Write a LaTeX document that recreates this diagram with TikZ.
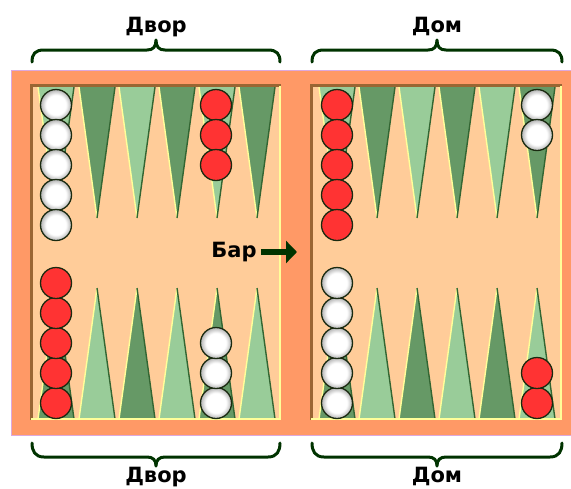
\documentclass[tikz,border=0pt]{standalone}
\usepackage{fontspec}
\setmainfont{DejaVu Sans}
\usetikzlibrary{arrows.meta}

\definecolor{boardorange}{HTML}{FF9966}
\definecolor{boardrim}{HTML}{DDA8DD}
\definecolor{fieldpeach}{HTML}{FFCC99}
\definecolor{darkpoint}{HTML}{669966}
\definecolor{lightpoint}{HTML}{99CC99}
\definecolor{pointedge}{HTML}{336633}
\definecolor{paleedge}{HTML}{FFFF99}
\definecolor{woodshade}{HTML}{996633}
\definecolor{checkerred}{HTML}{FF3333}
\definecolor{checkeredge}{HTML}{1A2A10}
\definecolor{labelgreen}{HTML}{003300}

% white checker: flat white face with a soft grey rim
\pgfdeclareradialshading{checkerwhite}{\pgfpoint{0bp}{0bp}}{%
  color(0bp)=(white); color(16bp)=(white); color(25bp)=(black!30); color(50bp)=(black!30)}

\begin{document}
\begin{tikzpicture}[x=1pt,y=-1pt,
  caption/.style={font=\bfseries\fontsize{21}{21}\selectfont, text=black, inner sep=0pt},
  checker/.style={circle, minimum size=31pt, inner sep=0pt, line width=1.3pt, draw=checkeredge},
  redchecker/.style={checker, fill=checkerred},
  whitechecker/.style={checker, shade, shading=checkerwhite},
  bracestroke/.style={draw=labelgreen, line width=3pt, line cap=round, line join=round},
  barpointer/.style={draw=labelgreen, line width=6pt, -{Triangle[length=11pt,width=22pt]}},
  fieldshade/.style={draw=woodshade, line width=3pt},
  fieldglow/.style={draw=paleedge, line width=2pt},
]
\useasboundingbox (0,0) rectangle (571,488);

% board frame and the bar between the two halves
\fill[boardorange] (11,70) rectangle (571,435);
\draw[boardrim, line width=1pt] (580,70.5) -- (11.5,70.5) -- (11.5,435.5) -- (580,435.5);

% the two playing fields
\fill[fieldpeach] (30,84) rectangle (281,420);
\fill[fieldpeach] (310,84) rectangle (562,420);

% points on the upper side
\foreach \cx/\tone in {56/lightpoint,97/darkpoint,137/lightpoint,177/darkpoint,217/lightpoint,257/darkpoint,
                       337/lightpoint,377/darkpoint,417/lightpoint,457/darkpoint,497/lightpoint,537/darkpoint}{
  \fill[\tone] (\cx-18,87) -- (\cx,218) -- (\cx+18,87) -- cycle;
  \draw[paleedge, line width=1.4pt] (\cx-18,87) -- (\cx,218);
  \draw[pointedge, line width=1.4pt] (\cx+18,87) -- (\cx,218);
}
% points on the lower side
\foreach \cx/\tone in {56/darkpoint,97/lightpoint,137/darkpoint,177/lightpoint,217/darkpoint,257/lightpoint,
                       337/darkpoint,377/lightpoint,417/darkpoint,457/lightpoint,497/darkpoint,537/lightpoint}{
  \fill[\tone] (\cx-18,419) -- (\cx,288) -- (\cx+18,419) -- cycle;
  \draw[paleedge, line width=1.4pt] (\cx-18,419) -- (\cx,288);
  \draw[pointedge, line width=1.4pt] (\cx+18,419) -- (\cx,288);
}

% bevel of each field: dark along top and left, light along bottom and right
\draw[fieldshade] (31.5,420) -- (31.5,85.5) -- (281,85.5);
\draw[fieldglow] (31,419) -- (280,419) -- (280,86);
\draw[fieldshade] (311.5,420) -- (311.5,85.5) -- (562,85.5);
\draw[fieldglow] (311,419) -- (561,419) -- (561,86);

% checkers, upper side
\foreach \i/\y in {1/105,2/135,3/165,4/195,5/225} \node[whitechecker] (ulw\i) at (56,\y) {};
\foreach \i/\y in {1/105,2/135,3/165} \node[redchecker] (ulr\i) at (216,\y) {};
\foreach \i/\y in {1/105,2/135,3/165,4/195,5/225} \node[redchecker] (urr\i) at (337,\y) {};
\foreach \i/\y in {1/105,2/135} \node[whitechecker] (urw\i) at (537,\y) {};
% checkers, lower side
\foreach \i/\y in {1/403,2/373,3/343,4/313,5/283} \node[redchecker] (llr\i) at (56,\y) {};
\foreach \i/\y in {1/403,2/373,3/343} \node[whitechecker] (llw\i) at (216,\y) {};
\foreach \i/\y in {1/403,2/373,3/343,4/313,5/283} \node[whitechecker] (lrw\i) at (337,\y) {};
\foreach \i/\y in {1/403,2/373} \node[redchecker] (lrr\i) at (537,\y) {};

% braces naming the quarters
\foreach \a/\b in {32/280,312/562}{
  \pgfmathsetmacro\m{(\a+\b)/2}
  \draw[bracestroke] (\a,62) .. controls (\a,54) and (\a+3,50) .. (\a+12,50) -- (\m-9,50)
    .. controls (\m-3,50) and (\m,47) .. (\m,40) .. controls (\m,47) and (\m+3,50) .. (\m+9,50)
    -- (\b-12,50) .. controls (\b-3,50) and (\b,54) .. (\b,62);
  \draw[bracestroke] (\a,443) .. controls (\a,451) and (\a+3,457) .. (\a+12,457) -- (\m-9,457)
    .. controls (\m-3,457) and (\m,460) .. (\m,466) .. controls (\m,460) and (\m+3,457) .. (\m+9,457)
    -- (\b-12,457) .. controls (\b-3,457) and (\b,451) .. (\b,443);
}
\node[caption, anchor=base] (yardtop) at (156,32) {Двор};
\node[caption, anchor=base] (hometop) at (437,32) {Дом};
\node[caption, anchor=base] (yardbottom) at (156,482) {Двор};
\node[caption, anchor=base] (homebottom) at (437,482) {Дом};

% label pointing at the bar
\node[caption, anchor=base, inner xsep=4pt] (barlabel) at (234,257) {Бар};
\coordinate (barslot) at (297,252);
\draw[barpointer] (barlabel.east |- barslot) -- (barslot);
\end{tikzpicture}
\end{document}
